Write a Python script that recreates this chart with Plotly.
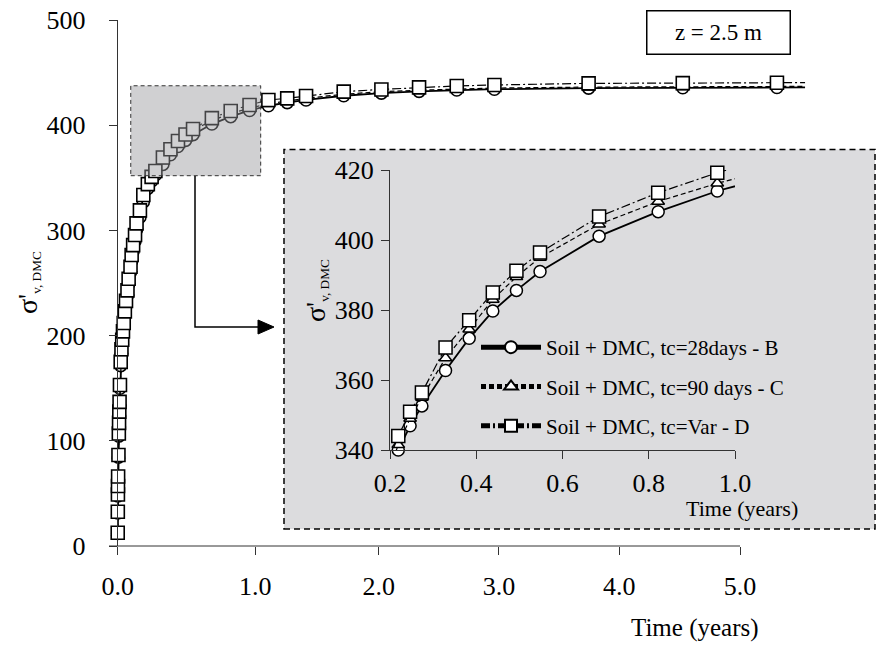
import plotly.graph_objects as go

# ---- data (time in years, effective stress) ----
time_years = [0.0001, 0.0008, 0.0016, 0.0022, 0.0030, 0.0055, 0.0082, 0.0099, 0.0118, 0.0137,
              0.0164, 0.0219, 0.0274, 0.0329, 0.0384, 0.0438, 0.0521, 0.0603, 0.0712, 0.0795,
              0.0932, 0.1014, 0.1123, 0.1260, 0.1370, 0.1616, 0.1863, 0.2192, 0.2466, 0.2740,
              0.3288, 0.3836, 0.4384, 0.4932, 0.5479, 0.6849, 0.8219, 0.9589, 1.0959, 1.2329,
              1.3699, 1.6438, 1.9178, 2.1918, 2.4658, 2.7397, 3.4247, 4.1096, 4.7945, 5.0000]

series_B = [12.0, 31.5, 47.5, 55.5, 64.0, 84.5, 104.5, 114.5, 125.0, 134.0,
            150.0, 171.5, 183.0, 192.0, 200.0, 208.0, 219.0, 228.5, 238.5, 249.0,
            260.5, 271.0, 280.5, 290.0, 300.5, 312.5, 327.0, 340.0, 346.9, 352.6,
            362.7, 371.9, 379.7, 385.6, 391.0, 401.1, 408.1, 414.0, 418.5, 421.5,
            424.0, 428.0, 430.5, 432.2, 433.4, 434.2, 435.2, 435.6, 435.8, 435.9]

series_C = [12.3, 32.0, 48.3, 56.3, 65.0, 85.5, 105.8, 115.8, 126.4, 135.5,
            151.5, 173.3, 185.0, 194.0, 202.0, 210.0, 221.0, 230.8, 240.8, 251.5,
            263.0, 273.8, 283.3, 293.0, 303.6, 315.8, 330.3, 341.5, 349.0, 355.0,
            366.3, 374.5, 383.0, 389.5, 395.0, 404.5, 411.0, 416.2, 420.5, 423.0,
            425.5, 429.5, 431.8, 433.3, 434.5, 435.3, 436.2, 436.6, 436.8, 436.9]

series_D = [12.6, 32.6, 49.0, 57.0, 66.0, 86.5, 107.0, 117.0, 127.7, 137.0,
            153.0, 175.0, 187.0, 196.0, 204.0, 212.0, 223.0, 233.0, 243.0, 254.0,
            265.5, 276.6, 286.0, 295.6, 306.7, 319.0, 333.6, 344.0, 350.9, 356.4,
            369.3, 377.1, 385.0, 391.2, 396.4, 406.7, 413.5, 419.2, 424.0, 425.5,
            427.7, 431.9, 434.0, 436.0, 437.3, 438.2, 439.8, 440.0, 440.4, 440.5]

series_names = ["Soil + DMC, tc=28days - B", "Soil + DMC, tc=90 days - C", "Soil + DMC, tc=Var - D"]
# main x-axis tick labels sit where the reference figure draws them
x_tickvals_main = [0, 1, 1.898, 2.773, 3.648, 4.526]
x_ticktext_main = ["0.0", "1.0", "2.0", "3.0", "4.0", "5.0"]
y_ticks_main = [0, 100, 200, 300, 400, 500]
x_ticks_inset = [0.2, 0.4, 0.6, 0.8, 1.0]
y_ticks_inset = [340, 360, 380, 400, 420]

# ---- layout helpers (pixel -> paper) ----
W, H = 877, 645
def px(x):
    return x / W
def py(y):
    return 1 - y / H

FONT = "Liberation Serif, Times New Roman, serif"
AX = "#333333"
styles = [
    dict(symbol="circle", size=12, dash="solid", width=1.8),
    dict(symbol="triangle-up", size=11, dash="5px,3px", width=1.2),
    dict(symbol="square", size=13, dash="9px,3px,2px,3px", width=1.2),
]
all_series = [series_B, series_C, series_D]

fig = go.Figure()

# main chart traces
for vals, st in zip(all_series, styles):
    sizes = [st["size"] if t < time_years[-1] else 0 for t in time_years]
    fig.add_trace(go.Scatter(
        x=time_years, y=vals, mode="lines+markers", showlegend=False,
        line=dict(color="black", width=st["width"], dash=st["dash"]),
        marker=dict(symbol=st["symbol"], size=sizes, color="white", opacity=1,
                    line=dict(color="black", width=1.6)),
        cliponaxis=False, xaxis="x", yaxis="y"))

# inset traces
for vals, st, name in zip(all_series, styles, series_names):
    sizes = [st["size"] if 0.2 <= t <= 1.0 else 0 for t in time_years]
    fig.add_trace(go.Scatter(
        x=time_years, y=vals, mode="lines+markers", name=name, legendgroup=name,
        line=dict(color="black", width=st["width"], dash=st["dash"]),
        marker=dict(symbol=st["symbol"], size=sizes, color="white", opacity=1,
                    line=dict(color="black", width=1.5)),
        cliponaxis=False, xaxis="x2", yaxis="y2"))

axis_common = dict(showgrid=False, zeroline=False, linecolor=AX,
                   linewidth=1, ticks="outside", ticklen=8, tickcolor=AX,
                   automargin=False,
                   tickfont=dict(family=FONT, size=26, color="black"))

fig.update_layout(
    width=W, height=H, margin=dict(l=0, r=0, t=0, b=0, autoexpand=False),
    paper_bgcolor="white", plot_bgcolor="rgba(0,0,0,0)",
    font=dict(family=FONT, color="black"),
    xaxis=dict(domain=[px(117.7), px(805.2)], range=[0, 5], tickvals=x_tickvals_main,
               ticktext=x_ticktext_main, anchor="y", ticklabelstandoff=9,
               showline=False, **axis_common),
    yaxis=dict(domain=[py(546), py(20)], range=[0, 500], tickvals=y_ticks_main,
               anchor="x", ticklabelstandoff=18, showline=True, **axis_common),
    xaxis2=dict(domain=[px(390), px(735)], range=[0.2, 1.0], tickvals=x_ticks_inset,
                tickformat=".1f", anchor="y2", ticklabelstandoff=2, showline=True,
                **axis_common),
    yaxis2=dict(domain=[py(450), py(170)], range=[340, 420], tickvals=y_ticks_inset,
                anchor="x2", ticklabelstandoff=2, showline=True, **axis_common),
    legend=dict(x=px(476), y=py(327), xanchor="left", yanchor="top",
                bgcolor="rgba(0,0,0,0)", font=dict(family=FONT, size=21, color="black"),
                tracegroupgap=9, itemsizing="constant", itemwidth=60),
    shapes=[
        # inset background
        dict(type="rect", xref="paper", yref="paper", x0=px(284), x1=px(875),
             y0=py(529), y1=py(149.5), fillcolor="#dcdcde",
             line=dict(color="black", width=1.5, dash="6px,4px"), layer="below"),
        # main x-axis baseline (ends at the last labelled tick)
        dict(type="line", xref="paper", yref="paper", x0=px(109), x1=px(740),
             y0=py(546), y1=py(546), line=dict(color=AX, width=1)),
        # zoom window on main chart
        dict(type="rect", xref="x", yref="y", x0=0.095, x1=1.04, y0=352, y1=437.5,
             fillcolor="rgba(150,150,155,0.45)",
             line=dict(color=AX, width=1, dash="4px,3px"), layer="above"),
        # connector
        dict(type="path", xref="paper", yref="paper",
             path=f"M{px(195)},{py(176)} L{px(195)},{py(327)} L{px(260)},{py(327)}",
             line=dict(color="black", width=1.5)),
        dict(type="path", xref="paper", yref="paper",
             path=f"M{px(258)},{py(320)} L{px(274)},{py(327)} L{px(258)},{py(334)} Z",
             fillcolor="black", line=dict(color="black", width=1)),
    ],
    annotations=[
        dict(text="z = 2.5 m", xref="paper", yref="paper", x=px(718), y=py(33),
             xanchor="center", yanchor="middle",
             showarrow=False, font=dict(family=FONT, size=23, color="black"),
             bordercolor="black", borderwidth=1.5, width=140, height=40, bgcolor="white"),
        dict(text="<span style='font-size:28px'>σ'</span><sub>v, DMC</sub>",
             xref="paper", yref="paper", x=px(28), y=py(283), textangle=-90,
             xanchor="center", yanchor="middle",
             showarrow=False, font=dict(family=FONT, size=19, color="black")),
        dict(text="<span style='font-size:28px'>σ'</span><sub>v, DMC</sub>",
             xref="paper", yref="paper", x=px(316), y=py(291), textangle=-90,
             xanchor="center", yanchor="middle",
             showarrow=False, font=dict(family=FONT, size=19, color="black")),
        dict(text="Time (years)", xref="paper", yref="paper", x=px(695), y=py(628),
             xanchor="center", yanchor="middle",
             showarrow=False, font=dict(family=FONT, size=25, color="black")),
        dict(text="Time (years)", xref="paper", yref="paper", x=px(742), y=py(508),
             xanchor="center", yanchor="middle",
             showarrow=False, font=dict(family=FONT, size=22, color="black")),
    ],
)

fig.write_html("out.html", config={"displayModeBar": False},
               post_script="document.body.style.margin='0px';")
